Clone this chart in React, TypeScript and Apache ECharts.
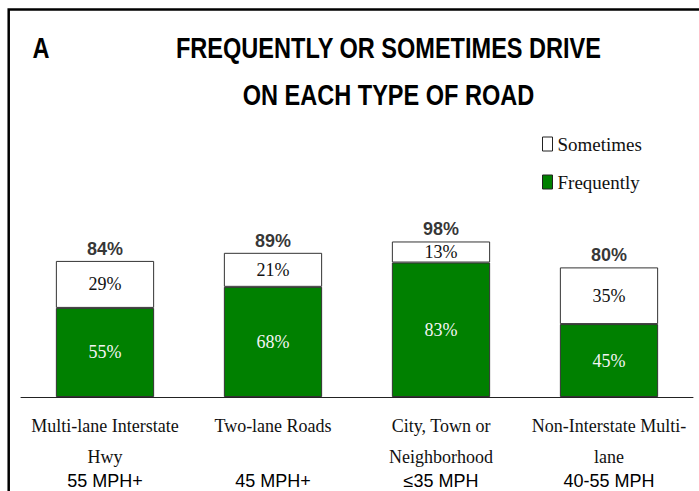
import React, { useEffect, useRef } from "react";
import * as echarts from "echarts";

const categories = [
  "Multi-lane Interstate\nHwy",
  "Two-lane Roads\n ",
  "City, Town or\nNeighborhood",
  "Non-Interstate Multi-\nlane",
];
const speeds = ["55 MPH+", "45 MPH+", "≤35 MPH", "40-55 MPH"];
const frequently = [55, 68, 83, 45];
const sometimes = [29, 21, 13, 35];
const totals = [84, 89, 98, 80];

export default function App() {
  const ref = useRef<HTMLDivElement>(null);
  useEffect(() => {
    document.body.style.margin = "0";
    const chart = echarts.init(ref.current!, null, { renderer: "svg" });
    const serif = "'Liberation Serif', 'DejaVu Serif', serif";
    const sans = "'Liberation Sans', Arial, sans-serif";
    const titleStyle = (text: string) => ({
      text,
      font: `bold 30px ${sans}`,
      fill: "#000",
      textAlign: "center",
      textVerticalAlign: "middle",
    });
    chart.setOption({
      animation: false,
      backgroundColor: "#ffffff",
      graphic: [
        {
          type: "rect",
          shape: { x: 8.7, y: 9.5, width: 900, height: 700 },
          style: { fill: "none", stroke: "#000", lineWidth: 2.5 },
          silent: true,
        },
        { type: "text", x: 41, y: 48, scaleX: 0.785, style: titleStyle("A") },
        {
          type: "text",
          x: 388.5,
          y: 48,
          scaleX: 0.785,
          style: titleStyle("FREQUENTLY OR SOMETIMES DRIVE"),
        },
        {
          type: "text",
          x: 388.5,
          y: 95,
          scaleX: 0.785,
          style: titleStyle("ON EACH TYPE OF ROAD"),
        },
      ],
      legend: {
        data: ["Sometimes", "Frequently"],
        orient: "vertical",
        left: 542,
        top: 134,
        padding: 0,
        itemWidth: 10,
        itemHeight: 14,
        itemGap: 18,
        icon: "rect",
        itemStyle: { borderColor: "#222", borderWidth: 1 },
        textStyle: {
          fontFamily: serif,
          fontSize: 19,
          color: "#111",
          lineHeight: 20,
        },
      },
      grid: { left: 21, right: 6, top: 235, bottom: 94 },
      xAxis: {
        type: "category",
        data: categories,
        axisLine: { lineStyle: { color: "#222", width: 1 } },
        axisTick: { length: 8, lineStyle: { color: "#222" } },
        axisLabel: {
          interval: 0,
          margin: 13,
          formatter: (value: string, idx: number) => {
            const parts = value.split("\n");
            return `{a|${parts[0]}}\n{a|${parts[1] || " "}}\n{b|${speeds[idx]}}`;
          },
          rich: {
            a: { fontFamily: serif, fontSize: 18, color: "#111", lineHeight: 31 },
            b: { fontFamily: sans, fontSize: 18, color: "#000", lineHeight: 18 },
          },
        },
      },
      yAxis: { type: "value", min: 0, max: 100, show: false, splitLine: { show: false } },
      series: [
        {
          name: "Frequently",
          type: "bar",
          stack: "total",
          barWidth: "58.5%",
          data: frequently,
          itemStyle: { color: "#008000", borderColor: "#333", borderWidth: 1 },
          label: {
            show: true,
            position: "inside",
            formatter: "{c}%",
            fontFamily: serif,
            fontSize: 18,
            color: "#f4f4f4",
          },
        },
        {
          name: "Sometimes",
          type: "bar",
          stack: "total",
          barWidth: "58.5%",
          data: sometimes,
          itemStyle: { color: "#ffffff", borderColor: "#333", borderWidth: 1 },
          label: {
            show: true,
            position: "inside",
            formatter: "{c}%",
            fontFamily: serif,
            fontSize: 18,
            color: "#111",
          },
        },
        {
          name: "Total",
          type: "scatter",
          symbolSize: 0,
          data: frequently.map((f, i) => f + sometimes[i]),
          label: {
            show: true,
            position: "top",
            distance: 3,
            formatter: (p: any) => `${totals[p.dataIndex]}%`,
            fontFamily: sans,
            fontWeight: "bold",
            fontSize: 18,
            color: "#000",
          },
          z: 5,
        },
      ],
    });
    return () => chart.dispose();
  }, []);
  return <div ref={ref} style={{ width: 699, height: 491 }} />;
}
